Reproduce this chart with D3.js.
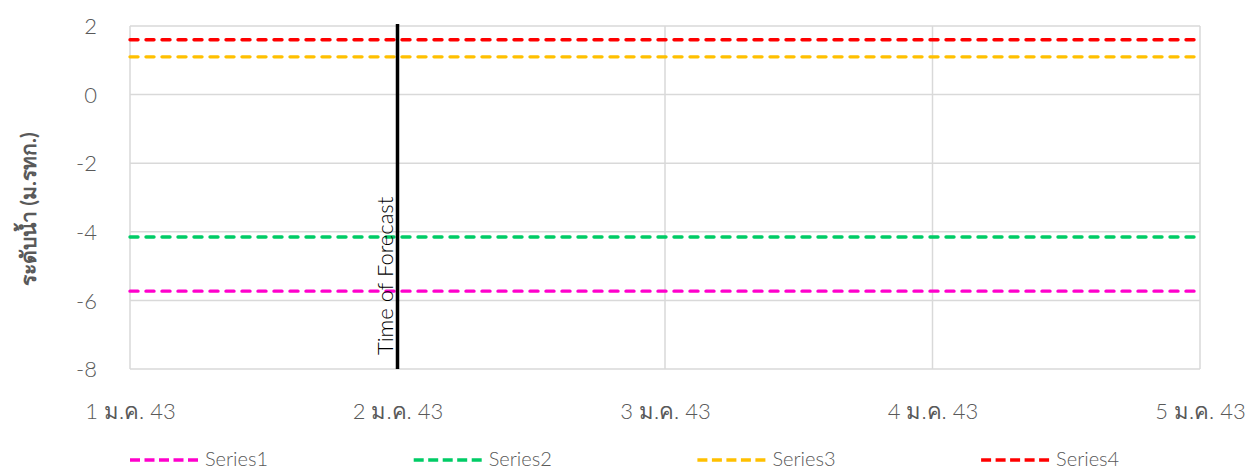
<!DOCTYPE html>
<html>
<head>
<meta charset="utf-8">
<script src="https://cdn.jsdelivr.net/npm/d3@7"></script>
<style>
  body { margin: 0; background: #fff; }
  svg text { font-family: "Segoe UI", Lato, "Open Sans", "Noto Sans", sans-serif; fill: #595959; }
</style>
</head>
<body>
<svg id="chart"></svg>
<script>
// data
let days = [new Date(2000, 0, 1), new Date(2000, 0, 2), new Date(2000, 0, 3), new Date(2000, 0, 4), new Date(2000, 0, 5)];
let dayLabels = ["1 ม.ค. 43", "2 ม.ค. 43", "3 ม.ค. 43", "4 ม.ค. 43", "5 ม.ค. 43"];
let seriesNames = ["Series1", "Series2", "Series3", "Series4"];
let series1 = [-5.73, -5.73, -5.73, -5.73, -5.73];
let series2 = [-4.15, -4.15, -4.15, -4.15, -4.15];
let series3 = [1.1, 1.1, 1.1, 1.1, 1.1];
let series4 = [1.6, 1.6, 1.6, 1.6, 1.6];
let yTicks = [2, 0, -2, -4, -6, -8];
let forecastDay = new Date(2000, 0, 2);

let colors = ["#ff00cc", "#00cc66", "#ffc000", "#ff0000"];

function makeChart() {
    let w = 1257;
    let h = 471;
    let left = 130, right = 1200, top = 26, bottom = 369;

    let svg = d3.select('#chart')
        .attr('width', w)
        .attr('height', h);

    let xScale = d3.scaleTime()
        .domain(d3.extent(days))
        .range([left, right]);

    let yScale = d3.scaleLinear()
        .domain([-8, 2])
        .range([bottom, top]);

    // grid
    svg.append('g')
        .selectAll('line')
        .data(yTicks)
        .join('line')
        .attr('x1', left).attr('x2', right)
        .attr('y1', d => yScale(d)).attr('y2', d => yScale(d))
        .attr('stroke', '#d9d9d9').attr('stroke-width', 1.5);

    svg.append('g')
        .selectAll('line')
        .data(days)
        .join('line')
        .attr('x1', d => xScale(d)).attr('x2', d => xScale(d))
        .attr('y1', top).attr('y2', bottom)
        .attr('stroke', '#d9d9d9').attr('stroke-width', 1.5);

    // y axis labels (plain hyphen minus like the original)
    let yAxis = d3.axisLeft(yScale)
        .tickValues(yTicks)
        .tickFormat(d => String(d))
        .tickSize(0).tickPadding(0);
    let yAxisGroup = svg.append('g')
        .attr('transform', `translate(97, 0)`)
        .call(yAxis);
    yAxisGroup.select('.domain').remove();
    yAxisGroup.selectAll('text')
        .attr('font-size', 22).attr('font-weight', 300)
        .attr('dy', '0.35em');

    // x axis labels
    let xAxis = d3.axisBottom(xScale)
        .tickValues(days)
        .tickFormat((d, i) => dayLabels[i])
        .tickSize(0).tickPadding(0);
    let xAxisGroup = svg.append('g')
        .attr('transform', `translate(0, 403)`)
        .call(xAxis);
    xAxisGroup.select('.domain').remove();
    xAxisGroup.selectAll('text')
        .attr('font-size', 22).attr('font-weight', 300);

    // y title
    svg.append('text')
        .attr('transform', 'translate(36, 209) rotate(-90)')
        .attr('text-anchor', 'middle')
        .attr('font-size', 21)
        .attr('font-weight', 'bold')
        .text('ระดับน้ำ (ม.รทก.)');

    // series lines
    let allSeries = [series1, series2, series3, series4];
    let line = d3.line()
        .x((d, i) => xScale(days[i]))
        .y(d => yScale(d));

    svg.append('g')
        .selectAll('path')
        .data(allSeries)
        .join('path')
        .attr('fill', 'none')
        .attr('stroke', (d, i) => colors[i])
        .attr('stroke-width', 3.4)
        .attr('stroke-dasharray', '8,8')
        .attr('stroke-linecap', 'round')
        .attr('d', line);

    // time of forecast marker
    svg.append('line')
        .attr('x1', xScale(forecastDay)).attr('x2', xScale(forecastDay))
        .attr('y1', top - 2).attr('y2', bottom)
        .attr('stroke', '#000').attr('stroke-width', 3.5);

    svg.append('text')
        .attr('transform', `translate(${xScale(forecastDay) - 5}, 355) rotate(-90)`)
        .attr('font-size', 22)
        .attr('font-weight', 300)
        .style('fill', '#000')
        .text('Time of Forecast');

    // legend
    let legend = svg.append('g')
        .selectAll('g')
        .data(seriesNames)
        .join('g')
        .attr('transform', (d, i) => `translate(${128 + i * 283.7}, 458)`);

    legend.append('line')
        .attr('x1', 2).attr('x2', 70)
        .attr('y1', 2).attr('y2', 2)
        .attr('stroke', (d, i) => colors[i])
        .attr('stroke-width', 3.6)
        .attr('stroke-dasharray', '10,4.5');

    legend.append('text')
        .attr('x', 77)
        .attr('y', 8)
        .attr('font-size', 20)
        .attr('font-weight', 300)
        .text(d => d);
}

makeChart();
</script>
</body>
</html>
